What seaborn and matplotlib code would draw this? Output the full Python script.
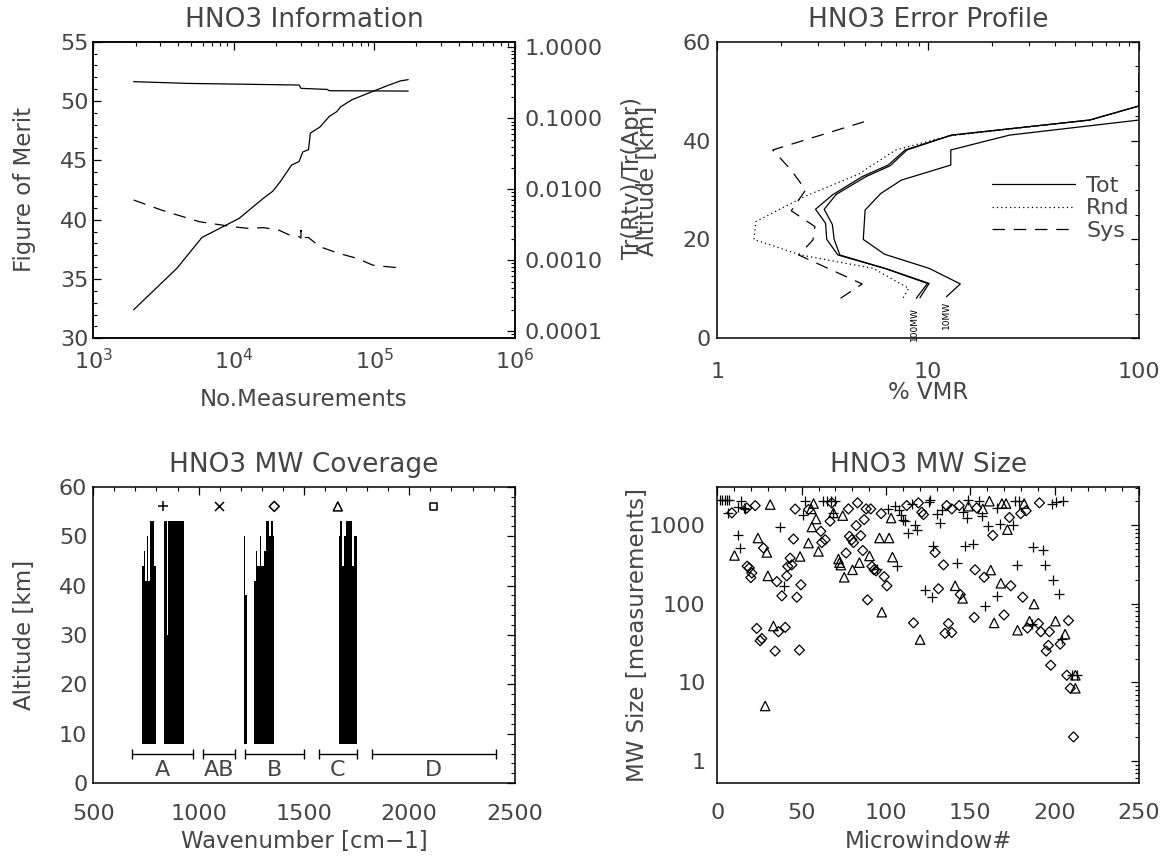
import numpy as np
import pandas as pd
import seaborn as sns
import matplotlib.pyplot as plt
from matplotlib.ticker import MultipleLocator, LogLocator, NullFormatter

# ---------------- data ----------------
# HNO3 Information (left axis: figure of merit, right axis: Tr(Rtv)/Tr(Apr))
fom_n = [1936, 3936, 5940, 10900, 16250, 18970, 21440, 25800, 29200, 31000, 34050,
         35140, 41000, 47860, 54100, 57550, 69200, 97200, 124500, 154000, 174800]
fom = [32.4, 35.9, 38.5, 40.1, 41.8, 42.4, 43.2, 44.6, 44.9, 45.7, 45.9,
       47.3, 47.8, 48.7, 49.1, 49.5, 50.1, 50.8, 51.3, 51.7, 51.8]
trace_n = [1936, 4730, 29200, 30100, 46300, 47860, 174800]
trace_r = [0.328, 0.31, 0.294, 0.264, 0.255, 0.2445, 0.2417]
dash_n = [1936, 3072, 5690, 9920, 12700, 16250, 20800, 25000, 29200, 30100, 30100,
          30600, 34050, 41000, 55800, 75900, 97200, 109900, 164000]
dash_r = [0.00706, 0.00507, 0.00349, 0.00296, 0.00281, 0.00288, 0.00267, 0.00226,
          0.00215, 0.00205, 0.00264, 0.00209, 0.00209, 0.00155, 0.00125, 0.00106,
          0.000855, 0.00083, 0.000767]
ratio_ticks = [1e-4, 1e-3, 1e-2, 1e-1, 1.0]
ratio_labels = ["0.0001", "0.0010", "0.0100", "0.1000", "1.0000"]

# HNO3 Error Profile (% VMR vs altitude)
tot100_x = [8.78, 9.92, 6.21, 3.73, 3.30, 3.26, 2.92, 3.51, 4.86, 6.46, 7.77, 12.9, 58.4, 100, 100]
tot100_y = [8.1, 11.1, 14.15, 16.85, 20.0, 23.25, 26.1, 29.0, 32.7, 35.05, 38.1, 41.1, 44.15, 47.0, 53.5]
tot100b_x = [9.14, 10.1, 6.46, 3.81, 3.58, 3.51, 3.21, 3.66, 5.06, 6.6, 7.93, 12.9, 58.4, 100]
tot100b_y = [8.2, 11.1, 13.95, 16.85, 20.0, 23.0, 26.1, 29.1, 32.7, 34.9, 38.1, 41.1, 44.15, 47.0]
tot10_x = [12.2, 14.2, 10.1, 6.21, 4.92, 5.02, 5.96, 7.46, 12.8, 12.8, 24.3, 100]
tot10_y = [8.4, 11.0, 14.15, 17.0, 20.0, 25.95, 29.3, 32.0, 35.05, 38.1, 41.1, 44.15]
rnd_x = [7.61, 8.09, 5.49, 2.48, 1.49, 1.52, 2.58, 4.67, 7.02, 12.4, 58.4, 100]
rnd_y = [8.2, 10.1, 14.15, 16.85, 20.0, 23.6, 28.65, 33.2, 38.1, 40.9, 44.15, 47.0]
sys_x = [3.84, 4.86, 2.43, 2.84, 2.9, 2.24, 2.62, 2.24, 1.83, 4.96]
sys_y = [8.1, 11.0, 16.85, 19.9, 22.6, 25.8, 30.0, 34.0, 38.1, 43.8]

# HNO3 MW Coverage: microwindow spans (cm-1) and top altitude (km), base at 8 km
mw_lo = [730, 741, 746, 757, 762, 770, 790, 797, 836, 851, 854, 1213, 1218, 1222,
         1262, 1270, 1276, 1289, 1295, 1308, 1321, 1332, 1344, 1352,
         1664, 1673, 1682, 1691, 1700, 1727, 1736]
mw_hi = [741, 746, 757, 762, 770, 790, 797, 800, 851, 854, 932, 1218, 1222, 1230,
         1270, 1276, 1289, 1295, 1308, 1321, 1332, 1344, 1352, 1360,
         1673, 1682, 1691, 1700, 1727, 1736, 1750]
mw_top = [44, 47, 41, 50, 41, 53, 44, 38, 53, 30, 53, 50, 44, 38,
          41, 47, 44, 50, 44, 47, 53, 50, 53, 50,
          50, 53, 44, 50, 53, 44, 50]
mw_base = 8
band_names = ["A", "AB", "B", "C", "D"]
band_lo = [686, 1021, 1218, 1571, 1821]
band_hi = [971, 1173, 1500, 1750, 2411]
band_marker = ["+", "x", "D", "^", "s"]

# HNO3 MW Size: microwindow index vs number of measurements, by band
a_idx = [1.4, 2.8, 4.2, 5.6, 7.0, 6.5, 12.1, 14.1, 15.5, 16.5, 37.2, 12.1, 13.5, 39.2,
         52.0, 51.0, 62.5, 64.9, 67.2, 69.8, 68.8, 94.9,
         101.4, 105.4, 115.3, 125.2, 126.2, 107.8, 109.0, 110.3, 111.3, 117.3, 118.3,
         113.3, 130.1, 133.1, 132.1, 145.9, 147.9, 148.9, 128.1, 106.4, 142.0, 146.9,
         123.2, 127.2, 155.4, 156.8, 165.7, 176.6, 179.1, 198.3, 160.2, 167.3, 175.2,
         151.5, 187.0, 193.0, 177.6, 194.4, 199.3, 166.1, 158.8, 186.5,
         200.7, 205.2, 202.3, 204.3, 210.5, 213.5]
a_size = [2070, 2070, 2070, 2070, 2070, 1430, 1700, 2000, 1650, 1600, 946, 755, 511, 169,
          2014, 1360, 2014, 2014, 2014, 2014, 1430, 275,
          1607, 1773, 1880, 1954, 2073, 1540, 1360, 1175, 1120, 1000, 876,
          794, 1400, 1540, 1050, 1457, 1230, 2073, 536, 298, 328, 536,
          150, 123, 2014, 1296, 1655, 2014, 2014, 1880, 966, 1045, 1010,
          580, 525, 480, 312, 312, 201, 126, 94, 56,
          1954, 2014, 133, 36, 12.3, 12.3]
b_idx = [8.5, 17.4, 22.4, 46.1, 45.1, 27.3, 43.1, 17.6, 18.9, 20.4, 19.8, 41.7, 44.1, 41.1,
         35.2, 49.5, 38.2, 47.1, 23.3, 36.2, 40.2, 26.3, 25.3, 34.2, 48.6,
         54.0, 67.8, 66.8, 77.7, 83.1, 88.2, 90.9, 97.1, 87.0, 82.3, 61.3, 61.9, 63.9,
         78.3, 79.7, 80.7, 85.0, 76.3, 86.2, 91.6, 92.9, 94.1, 98.9, 89.0,
         100.5, 112.3, 119.2, 121.2, 122.2, 136.0, 139.0, 143.4, 129.1, 134.1, 131.1,
         144.0, 116.3, 137.0, 135.0, 139.0,
         153.8, 179.9, 183.1, 191.0, 173.2, 163.3, 152.8, 158.2, 174.0, 181.1, 152.3,
         170.0, 183.9, 190.4, 191.8, 196.9, 196.3, 195.0, 197.7,
         208.2, 203.3, 207.2, 209.3, 211.2]
b_size = [1430, 1650, 1770, 1600, 665, 511, 380, 300, 285, 246, 215, 298, 312, 226,
          191, 174, 126, 121, 48.5, 44, 50, 36, 33.8, 25, 25.7,
          1578, 1918, 1120, 1607, 1918, 1607, 1607, 1400, 1175, 985, 834, 600, 652,
          720, 652, 600, 735, 441, 475, 298, 270, 262, 221, 112,
          169, 1773, 1918, 1457, 1360, 1773, 1607, 1773, 449, 312, 155,
          131, 57, 56, 42, 43,
          1655, 1400, 1520, 1918, 1250, 740, 270, 217, 169, 121, 67,
          72, 49, 56, 44, 44, 29.5, 25, 16.5,
          61, 30.6, 12.3, 8.4, 2.02]
c_idx = [31.3, 24.0, 29.3, 10.1, 49.0, 29.9, 33.2, 28.3,
         57.0, 55.6, 58.5, 68.8, 74.3, 56.0, 54.0, 59.9, 96.1, 90.2, 71.8, 72.4, 73.2,
         84.2, 80.1, 75.2, 97.5,
         103.0, 148.9, 101.8, 103.8, 141.0, 145.4, 120.2,
         161.3, 157.4, 168.7, 171.2, 181.9, 172.0, 162.1, 168.1, 187.8, 164.1, 178.0,
         185.1, 200.5, 206.2, 212.3, 212.3]
c_size = [1826, 685, 449, 411, 399, 226, 52, 5.0,
          1880, 1607, 1197, 1430, 1321, 946, 591, 463, 685, 405, 370, 333, 310,
          333, 270, 217, 78,
          1230, 1740, 685, 392, 169, 117, 35,
          2014, 1607, 1880, 1880, 1880, 876, 268, 182, 99, 57, 46,
          60, 60, 41, 12.3, 8.4]

# ---------------- style ----------------
TXT = "#454545"
sns.set_theme(style="white")
plt.rcParams["font.family"] = ["DejaVu Sans"]
plt.rcParams.update({
    "text.color": TXT,
    "axes.labelcolor": TXT,
    "axes.edgecolor": "black",
    "axes.linewidth": 1.1,
    "xtick.labelcolor": TXT,
    "ytick.labelcolor": TXT,
})


def style_axes(ax, right=True):
    ax.tick_params(which="both", direction="in", top=True, right=right,
                   colors="black", labelcolor=TXT)
    ax.tick_params(which="major", length=5.5, width=0.9, labelsize=16)
    ax.tick_params(which="minor", length=2.8, width=0.8)


def put_label(axis, text, coords):
    axis.set_label_text(text, fontsize=16.5, color=TXT)
    axis.set_label_coords(*coords)
    axis.label.set_va("center")
    axis.label.set_ha("center")


fig = plt.figure(figsize=(11.75, 8.65), dpi=100)
ax1 = fig.add_axes([0.0794, 0.6089, 0.3586, 0.3429])
ax2 = fig.add_axes([0.6106, 0.6089, 0.3587, 0.3429])
ax3 = fig.add_axes([0.0794, 0.0945, 0.3586, 0.3429])
ax4 = fig.add_axes([0.6106, 0.0945, 0.3587, 0.3429])

# ---------------- HNO3 Information ----------------
ax1.set_xscale("log")
ax1.set_xlim(1e3, 1e6)
ax1.set_ylim(30, 55)
ax1b = ax1.twinx()
ax1b.set_yscale("log")
ax1b.set_ylim(10 ** -4.1, 10 ** 0.079)

sns.lineplot(x=fom_n, y=fom, ax=ax1, color="black", lw=0.9, sort=False, estimator=None)
sns.lineplot(x=trace_n, y=trace_r, ax=ax1b, color="black", lw=0.9, sort=False, estimator=None)
sns.lineplot(x=dash_n, y=dash_r, ax=ax1b, color="black", lw=0.9, sort=False,
             estimator=None, linestyle=(0, (10, 7)))

ax1.yaxis.set_major_locator(MultipleLocator(5))
ax1.yaxis.set_minor_locator(MultipleLocator(1))
ax1.xaxis.set_minor_locator(LogLocator(subs=range(2, 10)))
ax1.xaxis.set_minor_formatter(NullFormatter())
style_axes(ax1, right=False)
ax1.tick_params(axis="x", which="major", pad=7)
ax1.tick_params(axis="y", which="major", pad=3.5)
ax1b.set_yticks(ratio_ticks, labels=ratio_labels)
ax1b.yaxis.set_minor_locator(LogLocator(subs=range(2, 10)))
ax1b.yaxis.set_minor_formatter(NullFormatter())
ax1b.tick_params(which="both", direction="in", left=False, right=True,
                 colors="black", labelcolor=TXT)
ax1b.tick_params(which="major", length=5.5, width=0.9, labelsize=16, pad=7.4)
ax1b.tick_params(which="minor", length=2.8, width=0.8)
ax1.set_title("HNO3 Information", fontsize=19, color=TXT, pad=10.5)
put_label(ax1.xaxis, "No.Measurements", (0.5, -0.205))
put_label(ax1.yaxis, "Figure of Merit", (-0.163, 0.5))
put_label(ax1b.yaxis, "Tr(Rtv)/Tr(Apr)", (1.28, 0.54))

# ---------------- HNO3 Error Profile ----------------
ax2.set_xscale("log")
ax2.set_xlim(1, 100)
ax2.set_ylim(0, 60)
sns.lineplot(x=tot100_x, y=tot100_y, ax=ax2, color="black", lw=0.9, sort=False,
             estimator=None, label="Tot")
sns.lineplot(x=rnd_x, y=rnd_y, ax=ax2, color="black", lw=0.9, sort=False,
             estimator=None, linestyle=(0, (1, 2.5)), label="Rnd")
sns.lineplot(x=sys_x, y=sys_y, ax=ax2, color="black", lw=0.9, sort=False,
             estimator=None, linestyle=(0, (10, 7)), label="Sys")
sns.lineplot(x=tot100b_x, y=tot100b_y, ax=ax2, color="black", lw=0.9, sort=False,
             estimator=None)
sns.lineplot(x=tot10_x, y=tot10_y, ax=ax2, color="black", lw=0.9, sort=False,
             estimator=None)
ax2.text(8.6, 2.8, "100MW", rotation=90, fontsize=6.5, ha="center", va="center", color="black")
ax2.text(12.2, 4.7, "10MW", rotation=90, fontsize=6.5, ha="center", va="center", color="black")
ax2.set_xticks([1, 10, 100], labels=["1", "10", "100"])
ax2.xaxis.set_minor_locator(LogLocator(subs=range(2, 10)))
ax2.xaxis.set_minor_formatter(NullFormatter())
ax2.yaxis.set_major_locator(MultipleLocator(20))
ax2.yaxis.set_minor_locator(MultipleLocator(5))
style_axes(ax2)
ax2.tick_params(axis="x", which="major", pad=17)
ax2.tick_params(axis="y", which="major", pad=4.5)
ax2.legend(loc="upper left", bbox_to_anchor=(0.651, 0.547), frameon=False, fontsize=16,
           handlelength=3.74, handletextpad=0.5, labelspacing=0.1, borderpad=0,
           borderaxespad=0, labelcolor=TXT)
ax2.set_title("HNO3 Error Profile", fontsize=19, color=TXT, pad=10.5)
put_label(ax2.xaxis, "% VMR", (0.5, -0.184))
put_label(ax2.yaxis, "Altitude [km]", (-0.166, 0.53))

# ---------------- HNO3 MW Coverage ----------------
mw = pd.DataFrame({"lo": mw_lo, "hi": mw_hi, "top": mw_top})
ax3.bar(mw["lo"], mw["top"] - mw_base, width=mw["hi"] - mw["lo"], bottom=mw_base,
        align="edge", color="black", linewidth=0)
bands = pd.DataFrame({"name": band_names, "lo": band_lo, "hi": band_hi, "marker": band_marker})
bands["mid"] = (bands["lo"] + bands["hi"]) / 2
bands["half"] = (bands["hi"] - bands["lo"]) / 2
ax3.errorbar(bands["mid"], [6] * len(bands), xerr=bands["half"], fmt="none",
             ecolor="black", elinewidth=1, capsize=3.3, capthick=1)
for _, b in bands.iterrows():
    ax3.text(b["mid"], 2.7, b["name"], ha="center", va="center", fontsize=16, color=TXT)
    hollow = b["marker"] in ("D", "^", "s")
    sns.scatterplot(x=[b["mid"]], y=[56], ax=ax3, marker=b["marker"],
                    s=26 if b["marker"] in ("D", "s") else 42,
                    facecolor="none" if hollow else "black", edgecolor="black",
                    linewidth=1.1, color="black")
ax3.set_xlim(500, 2500)
ax3.set_ylim(0, 60)
ax3.xaxis.set_major_locator(MultipleLocator(500))
ax3.xaxis.set_minor_locator(MultipleLocator(100))
ax3.yaxis.set_major_locator(MultipleLocator(10))
ax3.yaxis.set_minor_locator(MultipleLocator(2))
style_axes(ax3)
ax3.tick_params(axis="x", which="major", pad=15)
ax3.tick_params(axis="y", which="major", pad=4.3)
ax3.set_title("HNO3 MW Coverage", fontsize=19, color=TXT, pad=10.5)
put_label(ax3.xaxis, "Wavenumber [cm\u22121]", (0.5, -0.197))
put_label(ax3.yaxis, "Altitude [km]", (-0.163, 0.5))

# ---------------- HNO3 MW Size ----------------
ax4.set_yscale("log")
sns.scatterplot(x=a_idx, y=a_size, ax=ax4, marker="+", s=48, color="black",
                edgecolor="black", linewidth=0.9)
sns.scatterplot(x=b_idx, y=b_size, ax=ax4, marker="D", s=26, facecolor="none",
                edgecolor="black", linewidth=0.9, color="black")
sns.scatterplot(x=c_idx, y=c_size, ax=ax4, marker="^", s=46, facecolor="none",
                edgecolor="black", linewidth=0.9, color="black")
ax4.set_xlim(0, 250)
ax4.set_ylim(0.52, 3085)
ax4.set_yticks([1, 10, 100, 1000], labels=["1", "10", "100", "1000"])
ax4.yaxis.set_minor_locator(LogLocator(subs=range(2, 10)))
ax4.yaxis.set_minor_formatter(NullFormatter())
ax4.xaxis.set_major_locator(MultipleLocator(50))
ax4.xaxis.set_minor_locator(MultipleLocator(10))
style_axes(ax4)
ax4.tick_params(axis="x", which="major", pad=14.5)
ax4.tick_params(axis="y", which="major", pad=8.5)
ax4.set_title("HNO3 MW Size", fontsize=19, color=TXT, pad=10.5)
put_label(ax4.xaxis, "Microwindow#", (0.5, -0.197))
put_label(ax4.yaxis, "MW Size [measurements]", (-0.19, 0.5))

fig.savefig("out.png", dpi=100)
